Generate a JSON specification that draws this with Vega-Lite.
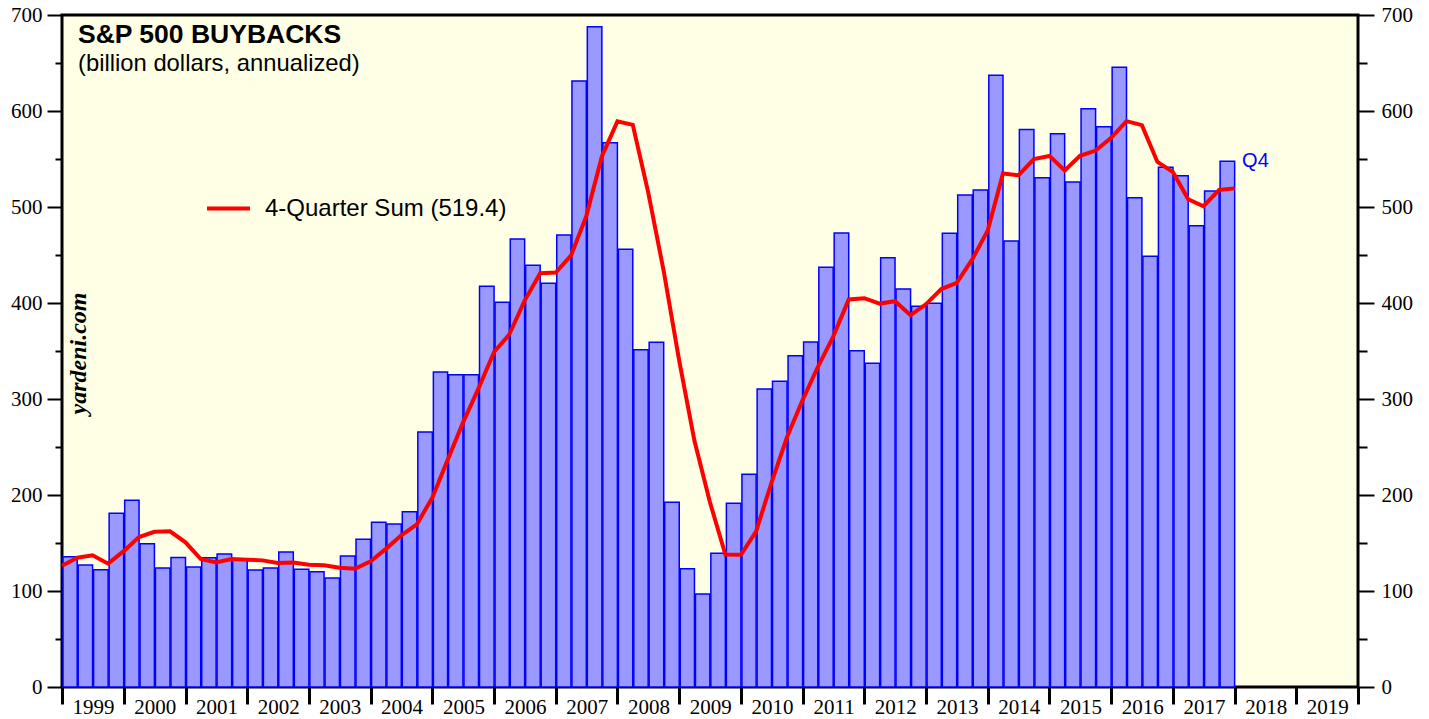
{
  "$schema": "https://vega.github.io/schema/vega-lite/v6.json",
  "width": 1296,
  "height": 672,
  "autosize": {"type": "none"},
  "padding": {"left": 62, "top": 15, "right": 71, "bottom": 32},
  "background": "white",
  "config": {
    "view": {"fill": "#FFFFE5", "stroke": "black", "strokeWidth": 3},
    "font": "Liberation Sans"
  },
  "title": {
    "text": "S&P 500 BUYBACKS",
    "subtitle": "(billion dollars, annualized)",
    "orient": "top",
    "anchor": "start",
    "frame": "group",
    "offset": -72,
    "dx": 16,
    "font": "Liberation Sans",
    "fontSize": 26.5,
    "fontWeight": "bold",
    "color": "black",
    "subtitleFont": "Liberation Sans",
    "subtitleFontSize": 23.8,
    "subtitleColor": "black",
    "subtitlePadding": 4
  },
  "datasets": {
    "bars": [
      {"date": "1999-01-01", "v": 135.7}, {"date": "1999-04-01", "v": 127}, {"date": "1999-07-01", "v": 122.2}, {"date": "1999-10-01", "v": 180.9},
      {"date": "2000-01-01", "v": 194.5}, {"date": "2000-04-01", "v": 149.3}, {"date": "2000-07-01", "v": 124}, {"date": "2000-10-01", "v": 135},
      {"date": "2001-01-01", "v": 125}, {"date": "2001-04-01", "v": 134.7}, {"date": "2001-07-01", "v": 138.5}, {"date": "2001-10-01", "v": 132.3},
      {"date": "2002-01-01", "v": 121.9}, {"date": "2002-04-01", "v": 124}, {"date": "2002-07-01", "v": 140.6}, {"date": "2002-10-01", "v": 122.6},
      {"date": "2003-01-01", "v": 120.1}, {"date": "2003-04-01", "v": 113.5}, {"date": "2003-07-01", "v": 136.5}, {"date": "2003-10-01", "v": 154},
      {"date": "2004-01-01", "v": 171.5}, {"date": "2004-04-01", "v": 169.8}, {"date": "2004-07-01", "v": 182.6}, {"date": "2004-10-01", "v": 265.6},
      {"date": "2005-01-01", "v": 328.1}, {"date": "2005-04-01", "v": 325.3}, {"date": "2005-07-01", "v": 325.3}, {"date": "2005-10-01", "v": 417.4},
      {"date": "2006-01-01", "v": 400.7}, {"date": "2006-04-01", "v": 466.7}, {"date": "2006-07-01", "v": 439.2}, {"date": "2006-10-01", "v": 420.5},
      {"date": "2007-01-01", "v": 470.8}, {"date": "2007-04-01", "v": 631.3}, {"date": "2007-07-01", "v": 687.8}, {"date": "2007-10-01", "v": 567},
      {"date": "2008-01-01", "v": 455.9}, {"date": "2008-04-01", "v": 351.4}, {"date": "2008-07-01", "v": 359}, {"date": "2008-10-01", "v": 192.4},
      {"date": "2009-01-01", "v": 123.3}, {"date": "2009-04-01", "v": 96.9}, {"date": "2009-07-01", "v": 139.2}, {"date": "2009-10-01", "v": 191.3},
      {"date": "2010-01-01", "v": 221.5}, {"date": "2010-04-01", "v": 310.4}, {"date": "2010-07-01", "v": 318.4}, {"date": "2010-10-01", "v": 345.1},
      {"date": "2011-01-01", "v": 359.4}, {"date": "2011-04-01", "v": 437.2}, {"date": "2011-07-01", "v": 473}, {"date": "2011-10-01", "v": 350.3},
      {"date": "2012-01-01", "v": 337.2}, {"date": "2012-04-01", "v": 447.2}, {"date": "2012-07-01", "v": 414.6}, {"date": "2012-10-01", "v": 396.5},
      {"date": "2013-01-01", "v": 399.8}, {"date": "2013-04-01", "v": 472.6}, {"date": "2013-07-01", "v": 512.5}, {"date": "2013-10-01", "v": 517.7},
      {"date": "2014-01-01", "v": 637.2}, {"date": "2014-04-01", "v": 464.6}, {"date": "2014-07-01", "v": 580.6}, {"date": "2014-10-01", "v": 530.5},
      {"date": "2015-01-01", "v": 576.4}, {"date": "2015-04-01", "v": 526}, {"date": "2015-07-01", "v": 602.4}, {"date": "2015-10-01", "v": 583.6},
      {"date": "2016-01-01", "v": 645.5}, {"date": "2016-04-01", "v": 509.7}, {"date": "2016-07-01", "v": 448.6}, {"date": "2016-10-01", "v": 541.3},
      {"date": "2017-01-01", "v": 532.6}, {"date": "2017-04-01", "v": 480.5}, {"date": "2017-07-01", "v": 516.7}, {"date": "2017-10-01", "v": 547.6}
    ],
    "sum": [
      {"date": "1999-01-01", "v": 126.4}, {"date": "1999-04-01", "v": 134.7}, {"date": "1999-07-01", "v": 137.2}, {"date": "1999-10-01", "v": 128.5},
      {"date": "2000-01-01", "v": 141.5}, {"date": "2000-04-01", "v": 156.2}, {"date": "2000-07-01", "v": 161.7}, {"date": "2000-10-01", "v": 162.2},
      {"date": "2001-01-01", "v": 150.7}, {"date": "2001-04-01", "v": 133.3}, {"date": "2001-07-01", "v": 129.7}, {"date": "2001-10-01", "v": 133.3},
      {"date": "2002-01-01", "v": 132.6}, {"date": "2002-04-01", "v": 131.9}, {"date": "2002-07-01", "v": 129.2}, {"date": "2002-10-01", "v": 129.7},
      {"date": "2003-01-01", "v": 127.3}, {"date": "2003-04-01", "v": 126.8}, {"date": "2003-07-01", "v": 124.2}, {"date": "2003-10-01", "v": 123.2},
      {"date": "2004-01-01", "v": 131}, {"date": "2004-04-01", "v": 143.9}, {"date": "2004-07-01", "v": 158}, {"date": "2004-10-01", "v": 169.5},
      {"date": "2005-01-01", "v": 197.4}, {"date": "2005-04-01", "v": 236.5}, {"date": "2005-07-01", "v": 275.4}, {"date": "2005-10-01", "v": 311.1},
      {"date": "2006-01-01", "v": 349}, {"date": "2006-04-01", "v": 367.2}, {"date": "2006-07-01", "v": 402.5}, {"date": "2006-10-01", "v": 431},
      {"date": "2007-01-01", "v": 431.8}, {"date": "2007-04-01", "v": 449.3}, {"date": "2007-07-01", "v": 490.5}, {"date": "2007-10-01", "v": 552.6},
      {"date": "2008-01-01", "v": 589.2}, {"date": "2008-04-01", "v": 585.5}, {"date": "2008-07-01", "v": 515.5}, {"date": "2008-10-01", "v": 433.3},
      {"date": "2009-01-01", "v": 339.7}, {"date": "2009-04-01", "v": 256.5}, {"date": "2009-07-01", "v": 192.9}, {"date": "2009-10-01", "v": 138},
      {"date": "2010-01-01", "v": 137.7}, {"date": "2010-04-01", "v": 162.2}, {"date": "2010-07-01", "v": 213}, {"date": "2010-10-01", "v": 260.4},
      {"date": "2011-01-01", "v": 298.9}, {"date": "2011-04-01", "v": 333.3}, {"date": "2011-07-01", "v": 365}, {"date": "2011-10-01", "v": 403.7},
      {"date": "2012-01-01", "v": 405}, {"date": "2012-04-01", "v": 399.4}, {"date": "2012-07-01", "v": 401.9}, {"date": "2012-10-01", "v": 387.3},
      {"date": "2013-01-01", "v": 398.9}, {"date": "2013-04-01", "v": 414.5}, {"date": "2013-07-01", "v": 420.9}, {"date": "2013-10-01", "v": 445.4},
      {"date": "2014-01-01", "v": 475.7}, {"date": "2014-04-01", "v": 535}, {"date": "2014-07-01", "v": 533}, {"date": "2014-10-01", "v": 550},
      {"date": "2015-01-01", "v": 553.2}, {"date": "2015-04-01", "v": 538}, {"date": "2015-07-01", "v": 553.4}, {"date": "2015-10-01", "v": 558.8},
      {"date": "2016-01-01", "v": 572.1}, {"date": "2016-04-01", "v": 589.4}, {"date": "2016-07-01", "v": 585.3}, {"date": "2016-10-01", "v": 546.9},
      {"date": "2017-01-01", "v": 536.3}, {"date": "2017-04-01", "v": 508}, {"date": "2017-07-01", "v": 500.8}, {"date": "2017-10-01", "v": 517.8},
      {"date": "2018-01-01", "v": 519.4}
    ]
  },
  "layer": [
    {
      "data": {"name": "bars"},
      "mark": {"type": "bar", "fill": "#9999FF", "stroke": "#0000FF", "strokeWidth": 1.5},
      "encoding": {
        "x": {
          "field": "date",
          "type": "temporal",
          "timeUnit": "utcyearquarter",
          "scale": {
            "type": "utc",
            "domain": [
              {"year": 1999, "month": 1, "date": 1, "utc": true},
              {"year": 2020, "month": 1, "date": 1, "utc": true}
            ]
          },
          "axis": {
            "orient": "bottom",
            "title": null,
            "values": [
              {"year": 1999, "utc": true}, {"year": 2000, "utc": true}, {"year": 2001, "utc": true}, {"year": 2002, "utc": true},
              {"year": 2003, "utc": true}, {"year": 2004, "utc": true}, {"year": 2005, "utc": true}, {"year": 2006, "utc": true},
              {"year": 2007, "utc": true}, {"year": 2008, "utc": true}, {"year": 2009, "utc": true}, {"year": 2010, "utc": true},
              {"year": 2011, "utc": true}, {"year": 2012, "utc": true}, {"year": 2013, "utc": true}, {"year": 2014, "utc": true},
              {"year": 2015, "utc": true}, {"year": 2016, "utc": true}, {"year": 2017, "utc": true}, {"year": 2018, "utc": true},
              {"year": 2019, "utc": true}, {"year": 2020, "utc": true}
            ],
            "labelExpr": "utcyear(datum.value) == 2020 ? '' : utcFormat(datum.value, '%Y')",
            "labelOffset": 31,
            "labelFont": "Liberation Serif",
            "labelFontSize": 21,
            "labelColor": "black",
            "labelPadding": -8,
            "labelFlush": false,
            "labelOverlap": false,
            "tickSize": 17,
            "tickWidth": 3,
            "tickColor": "black",
            "domain": false,
            "grid": false
          }
        },
        "y": {
          "field": "v",
          "type": "quantitative",
          "scale": {"domain": [0, 700], "nice": false},
          "axis": {
            "orient": "left",
            "values": [0, 50, 100, 150, 200, 250, 300, 350, 400, 450, 500, 550, 600, 650, 700],
            "labelExpr": "datum.value % 100 == 0 ? datum.label : ''",
            "tickSize": {"condition": {"test": "datum.value % 100 == 0", "value": 15}, "value": 7},
            "tickWidth": 2,
            "tickColor": "black",
            "labelFont": "Liberation Serif",
            "labelFontSize": 21,
            "labelColor": "black",
            "labelPadding": 5,
            "domain": false,
            "grid": false,
            "title": "yardeni.com",
            "titleFont": "Liberation Serif",
            "titleFontStyle": "italic",
            "titleFontWeight": "bold",
            "titleFontSize": 24,
            "titleColor": "black",
            "titleAngle": 270,
            "titleAlign": "center",
            "titleBaseline": "alphabetic",
            "titleX": 23,
            "titleY": 338
          }
        }
      }
    },
    {
      "data": {"name": "sum"},
      "mark": {"type": "line", "strokeWidth": 4},
      "encoding": {
        "x": {"field": "date", "type": "temporal"},
        "y": {
          "field": "v",
          "type": "quantitative",
          "axis": {
            "orient": "right",
            "values": [0, 50, 100, 150, 200, 250, 300, 350, 400, 450, 500, 550, 600, 650, 700],
            "labelExpr": "datum.value % 100 == 0 ? datum.label : ''",
            "tickSize": {"condition": {"test": "datum.value % 100 == 0", "value": 16}, "value": 9},
            "tickWidth": 2,
            "tickColor": "black",
            "labelFont": "Liberation Serif",
            "labelFontSize": 21,
            "labelColor": "black",
            "labelPadding": 7,
            "domain": false,
            "grid": false,
            "title": null
          }
        },
        "color": {
          "datum": "4-Quarter Sum (519.4)",
          "scale": {"range": ["#FF0000"]},
          "legend": {
            "orient": "none",
            "legendX": 143,
            "legendY": 170,
            "title": null,
            "padding": 0,
            "symbolType": "stroke",
            "symbolSize": 1849,
            "symbolStrokeWidth": 4,
            "labelFont": "Liberation Sans",
            "labelFontSize": 24,
            "labelColor": "black",
            "labelOffset": 13,
            "labelLimit": 400
          }
        }
      }
    },
    {
      "data": {"name": "bars"},
      "transform": [{"filter": "datum.v == 547.6"}],
      "mark": {"type": "text", "text": "Q4", "align": "left", "baseline": "middle", "dx": 23, "font": "Liberation Sans", "fontSize": 20, "color": "#0000FF"},
      "encoding": {
        "x": {"field": "date", "type": "temporal"},
        "y": {"field": "v", "type": "quantitative", "axis": null}
      }
    }
  ],
  "resolve": {"axis": {"y": "independent"}}
}
